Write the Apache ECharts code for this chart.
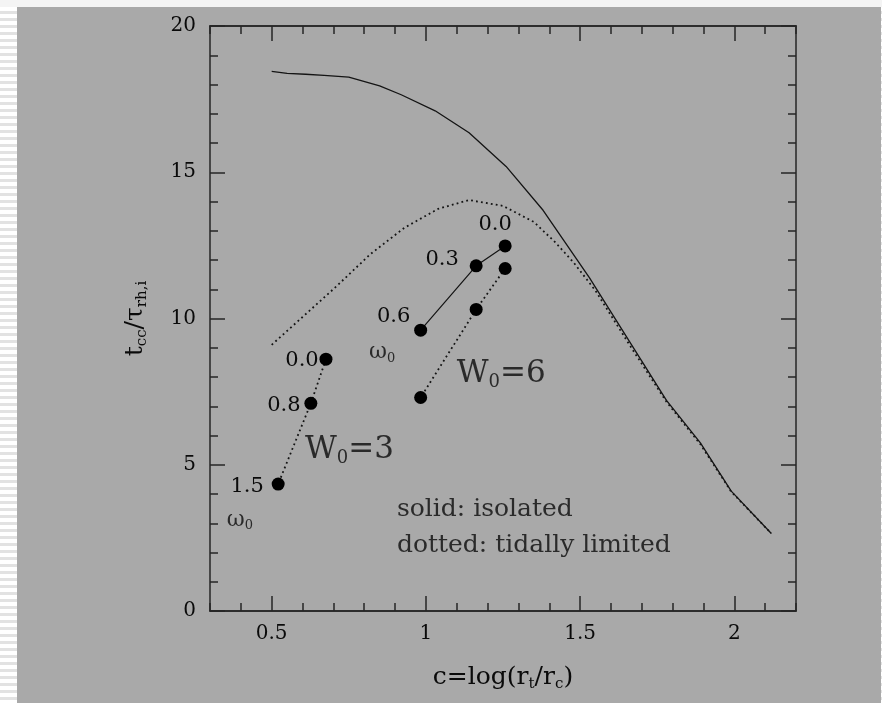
<!DOCTYPE html>
<html>
<head>
<meta charset="utf-8">
<script src="https://cdn.jsdelivr.net/npm/echarts@6/dist/echarts.min.js"></script>
<style>
  html, body {
    margin: 0;
    padding: 0;
    width: 882px;
    height: 703px;
    overflow: hidden;
    background: repeating-linear-gradient(to bottom, #ffffff 0px, #ffffff 4px, #e2e2e2 4px, #e2e2e2 7px);
  }
  #chart {
    position: absolute;
    left: 17px;
    top: 7px;
    width: 864px;
    height: 696px;
  }
  #topstrip {
    position: absolute;
    left: 0;
    top: 0;
    width: 882px;
    height: 7px;
    background: #f4f4f4;
  }
</style>
</head>
<body>
<div id="topstrip"></div>
<div id="chart"></div>
<script>
// isolated clusters (solid curve)
const isolatedC = [0.5, 0.55, 0.61, 0.67, 0.75, 0.85, 0.92, 1.03, 1.14, 1.26, 1.38, 1.53, 1.67, 1.78, 1.89, 1.99, 2.12]
const isolatedT = [18.45, 18.38, 18.35, 18.31, 18.25, 17.95, 17.65, 17.1, 16.35, 15.2, 13.7, 11.4, 9.05, 7.2, 5.75, 4.1, 2.65]

// tidally limited clusters (dotted curve)
const tidalC = [0.5, 0.6, 0.71, 0.82, 0.93, 1.04, 1.14, 1.25, 1.35, 1.42, 1.48, 1.55, 1.66, 1.78, 1.89, 1.99, 2.12]
const tidalT = [9.1, 10.05, 11.1, 12.2, 13.1, 13.75, 14.05, 13.85, 13.3, 12.6, 11.9, 10.95, 9.1, 7.15, 5.7, 4.08, 2.65]

// rotating models, W0=6
const w6SolidC = [1.257, 1.163, 0.983]
const w6SolidT = [12.48, 11.8, 9.6]
const w6SolidLabels = ['0.0', '0.3', '0.6']
const w6DottedC = [1.257, 1.163, 0.983]
const w6DottedT = [11.71, 10.31, 7.3]

// rotating models, W0=3
const w3DottedC = [0.676, 0.627, 0.521]
const w3DottedT = [8.61, 7.1, 4.34]
const w3DottedLabels = ['0.0', '0.8', '1.5']

const xTickLabels = [0.5, 1, 1.5, 2]

const serif = '"DejaVu Serif", "Liberation Serif", serif'
const ink = '#0a0a0a'
const frame = '#262626'

const chartInstance = echarts.init(document.getElementById('chart'))

const pairs = (xs, ys) => xs.map((x, i) => [x, ys[i]])

const labelled = (xs, ys, labels, offsets) => xs.map((x, i) => ({
    value: [x, ys[i]],
    label: {
        show: true,
        position: 'inside',
        formatter: labels[i],
        offset: offsets[i]
    }
}))

const textMark = (x, y, text, align) => ({
    value: [x, y],
    label: {
        show: true,
        position: 'inside',
        align: align || 'center',
        formatter: text
    }
})

const subRich = (size) => ({
    m: { fontFamily: serif, fontSize: size, color: ink },
    s: { fontFamily: serif, fontSize: Math.round(size * 0.6), color: ink, padding: [Math.round(size * 0.55), 0, 0, 0] }
})

const baseX = {
    type: 'value',
    min: 0.3,
    max: 2.2,
    splitLine: { show: false },
    axisLine: { show: true, lineStyle: { color: frame, width: 1.5 } }
}
const baseY = {
    type: 'value',
    min: 0,
    max: 20,
    interval: 5,
    splitLine: { show: false },
    axisLine: { show: true, lineStyle: { color: frame, width: 1.5 } },
    minorTick: { show: true, splitNumber: 5, length: 8, lineStyle: { color: frame, width: 1.5 } },
    axisTick: { inside: true, length: 15, lineStyle: { color: frame, width: 1.5 } }
}

const option = {
    backgroundColor: '#a9a9a9',
    animation: false,
    grid: { left: 193, right: 85, top: 19, bottom: 92 },
    xAxis: [
        Object.assign({}, baseX, {
            position: 'bottom',
            axisTick: { show: true, inside: true, length: 15, customValues: xTickLabels, lineStyle: { color: frame, width: 1.5 } },
            axisLabel: { customValues: xTickLabels, margin: 13, fontFamily: serif, fontSize: 20, color: ink },
            name: '{m|c=log(r}{s|t}{m|/r}{s|c}{m|)}',
            nameLocation: 'middle',
            nameGap: 52,
            nameTextStyle: { rich: subRich(25) }
        }),
        Object.assign({}, baseX, {
            position: 'bottom',
            interval: 0.1,
            axisTick: { show: true, inside: true, length: 8, lineStyle: { color: frame, width: 1.5 } },
            axisLabel: { show: false }
        }),
        Object.assign({}, baseX, {
            position: 'top',
            axisTick: { show: true, inside: true, length: 15, customValues: xTickLabels, lineStyle: { color: frame, width: 1.5 } },
            axisLabel: { show: false }
        }),
        Object.assign({}, baseX, {
            position: 'top',
            interval: 0.1,
            axisTick: { show: true, inside: true, length: 8, lineStyle: { color: frame, width: 1.5 } },
            axisLabel: { show: false }
        })
    ],
    yAxis: [
        Object.assign({}, baseY, {
            position: 'left',
            axisLabel: { margin: 14, fontFamily: serif, fontSize: 20, color: ink },
            name: '{m|t}{s|cc}{m|/τ}{s|rh,i}',
            nameLocation: 'middle',
            nameGap: 60,
            nameTextStyle: { rich: subRich(25) }
        }),
        Object.assign({}, baseY, {
            position: 'right',
            axisLabel: { show: false }
        })
    ],
    series: [
        {
            type: 'line',
            data: pairs(isolatedC, isolatedT),
            showSymbol: false,
            lineStyle: { color: '#141414', width: 1.3 }
        },
        {
            type: 'line',
            data: pairs(tidalC, tidalT),
            showSymbol: false,
            lineStyle: { color: '#141414', width: 1.8, type: [1.8, 3.2] }
        },
        {
            type: 'line',
            data: labelled(w6SolidC, w6SolidT, w6SolidLabels, [[-10, -21], [-34, -6], [-27, -14]]),
            symbol: 'circle',
            symbolSize: 13,
            itemStyle: { color: '#000' },
            lineStyle: { color: '#141414', width: 1.2 },
            label: { fontFamily: serif, fontSize: 21, color: ink }
        },
        {
            type: 'line',
            data: pairs(w6DottedC, w6DottedT),
            symbol: 'circle',
            symbolSize: 13,
            itemStyle: { color: '#000' },
            lineStyle: { color: '#141414', width: 1.8, type: [1.8, 3.2] }
        },
        {
            type: 'line',
            data: labelled(w3DottedC, w3DottedT, w3DottedLabels, [[-24, 1], [-27, 2], [-31, 2]]),
            symbol: 'circle',
            symbolSize: 13,
            itemStyle: { color: '#000' },
            lineStyle: { color: '#141414', width: 1.8, type: [1.8, 3.2] },
            label: { fontFamily: serif, fontSize: 21, color: ink }
        },
        {
            type: 'scatter',
            symbolSize: 0,
            silent: true,
            data: [
                textMark(0.858, 8.85, '{m|ω}{s|0}'),
                textMark(0.397, 3.11, '{m|ω}{s|0}'),
                textMark(1.1, 8.1, '{b|W}{bs|0}{b|=6}', 'left'),
                textMark(0.608, 5.5, '{b|W}{bs|0}{b|=3}', 'left'),
                textMark(0.906, 3.48, '{t|solid: isolated}', 'left'),
                textMark(0.906, 2.25, '{t|dotted: tidally limited}', 'left')
            ],
            label: {
                rich: {
                    m: { fontFamily: serif, fontSize: 22, color: ink },
                    s: { fontFamily: serif, fontSize: 13, color: ink, padding: [12, 0, 0, 0] },
                    b: { fontFamily: serif, fontSize: 31, color: ink },
                    bs: { fontFamily: serif, fontSize: 18, color: ink, padding: [16, 0, 0, 0] },
                    t: { fontFamily: serif, fontSize: 25, color: ink }
                }
            }
        }
    ]
}

chartInstance.setOption(option)
</script>
</body>
</html>
